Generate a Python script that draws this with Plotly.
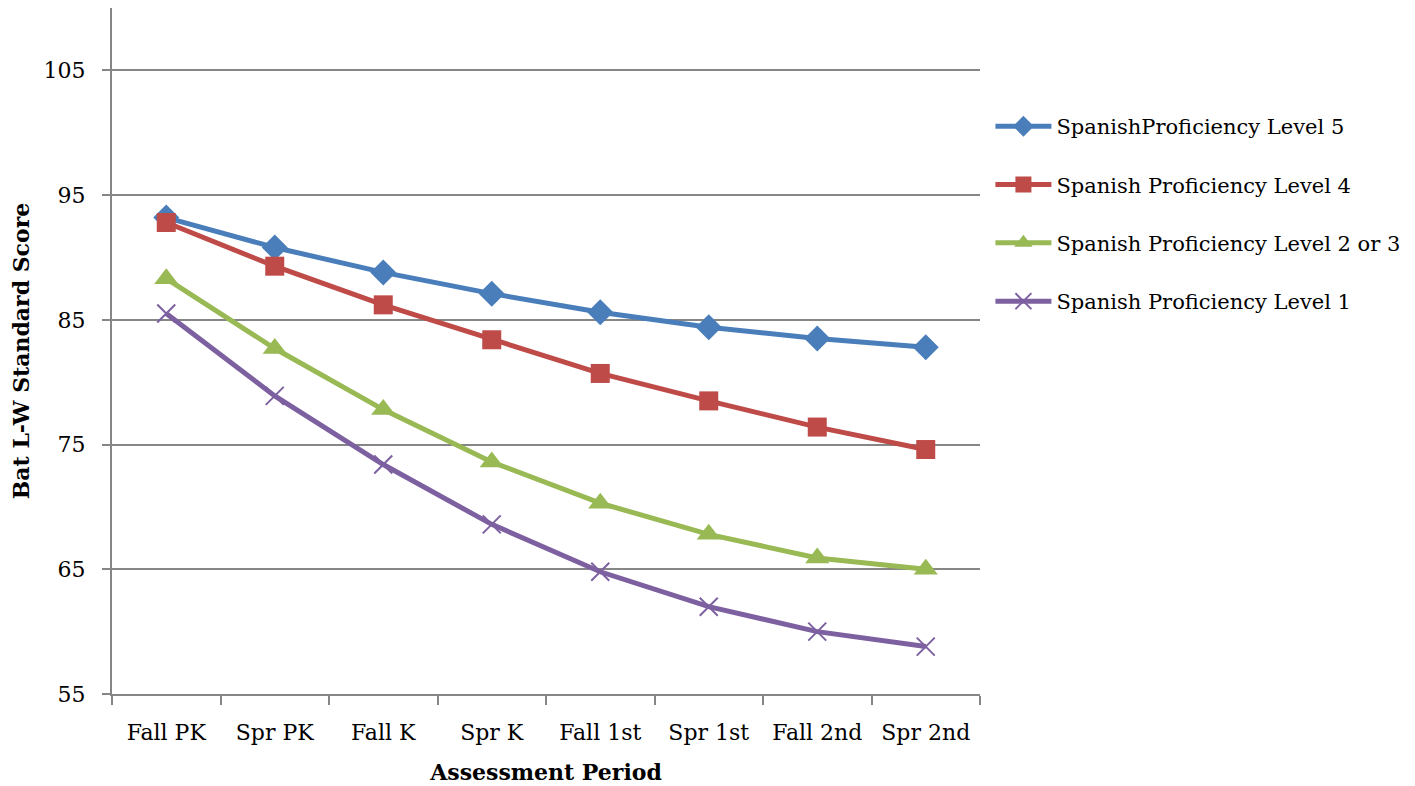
import plotly.graph_objects as go

periods = ["Fall PK", "Spr PK", "Fall K", "Spr K", "Fall 1st", "Spr 1st", "Fall 2nd", "Spr 2nd"]
level5 = [93.2, 90.8, 88.8, 87.1, 85.6, 84.4, 83.5, 82.8]
level4 = [92.8, 89.3, 86.2, 83.4, 80.7, 78.5, 76.4, 74.6]
level23 = [88.3, 82.7, 77.8, 73.6, 70.3, 67.8, 65.9, 65.0]
level1 = [85.5, 78.9, 73.4, 68.6, 64.8, 62.0, 60.0, 58.8]

names = ["SpanishProficiency Level 5", "Spanish Proficiency Level 4",
         "Spanish Proficiency Level 2 or 3", "Spanish Proficiency Level 1"]
series = [level5, level4, level23, level1]
colors = ["#4A7EBB", "#BE4B48", "#98B954", "#7D60A0"]
symbols = ["diamond", "square", "triangle-up", "x-thin"]
sizes = [20, 19, 21, 18]

FONT = "DejaVu Serif"

fig = go.Figure()
for i, (nm, vals, c, s, sz) in enumerate(zip(names, series, colors, symbols, sizes)):
    marker = dict(symbol=s, size=sz, color=c)
    if s == "x-thin":
        marker["line"] = dict(color=c, width=2)
    fig.add_trace(go.Scatter(
        x=periods, y=vals, name=nm, mode="lines+markers",
        line=dict(color=c, width=5), marker=marker, legendgroup=str(i)))

fig.update_layout(
    width=1407, height=778,
    margin=dict(l=104, r=435, t=0, b=92, autoexpand=False),
    paper_bgcolor="white", plot_bgcolor="white",
    font=dict(family=FONT, size=21, color="black"),
    showlegend=True,
    legend=dict(x=1.012, y=0.857, xanchor="left", yanchor="top",
                font=dict(family=FONT, size=21), tracegroupgap=28,
                itemwidth=56, itemsizing="trace", traceorder="grouped",
                bgcolor="rgba(0,0,0,0)"),
    xaxis=dict(
        range=[-0.5, len(periods) - 0.5],
        showgrid=False, showline=True, linecolor="#868686", linewidth=2,
        ticks="outside", tickson="boundaries", ticklen=9, tickcolor="#868686", tickwidth=2,
        ticklabelstandoff=18,
        title=dict(text="<b>Assessment Period</b>", font=dict(family=FONT, size=22), standoff=20),
        tickfont=dict(family=FONT, size=22), automargin=False,
    ),
    yaxis=dict(
        range=[55, 110], tickvals=[55, 65, 75, 85, 95, 105],
        showgrid=True, gridcolor="#868686", gridwidth=2,
        showline=True, linecolor="#868686", linewidth=2,
        ticks="outside", ticklen=8, tickcolor="#868686", tickwidth=2,
        ticklabelstandoff=12,
        zeroline=False, automargin=False,
        title=dict(text="<b>Bat L-W Standard Score</b>", font=dict(family=FONT, size=22), standoff=20),
        tickfont=dict(family=FONT, size=22),
    ),
)

fig.write_html("out.html")
